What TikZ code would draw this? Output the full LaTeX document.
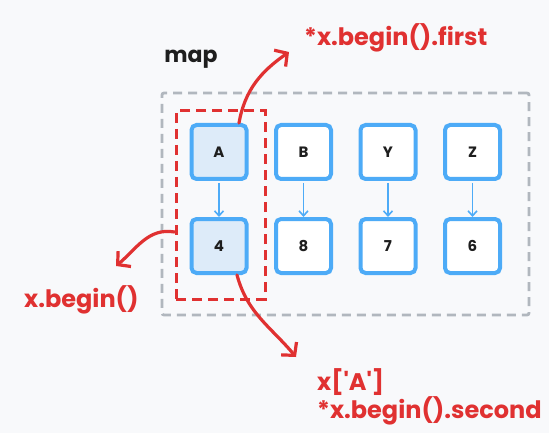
\documentclass[tikz,border=0pt]{standalone}
\usepackage{fontspec}
\setmainfont{Poppins}
\usetikzlibrary{arrows.meta}
\definecolor{bg}{HTML}{F8F9FB}
\definecolor{exred}{HTML}{E03131}
\definecolor{exblue}{HTML}{4DABF7}
\definecolor{exfill}{HTML}{DDEBF9}
\definecolor{exgray}{HTML}{B1B7BE}
\definecolor{ink}{HTML}{1E1E1E}
\tikzset{
  cell/.style={draw=exblue, line width=4pt, rounded corners=5pt, minimum width=55pt, minimum height=54pt, fill=white, text=ink, font=\fontsize{15}{17}\selectfont\bfseries, inner sep=0pt},
  hcell/.style={cell, fill=exfill},
  link/.style={draw=exblue, line width=1.6pt, shorten <=2pt, -{Straight Barb[length=5pt, width=9pt, line width=1.6pt]}},
  callout/.style={draw=exred, line width=3.2pt, line cap=round, -{Straight Barb[length=9pt, width=20pt, line width=3.2pt]}},
  lbl/.style={text=exred, font=\fontsize{24}{28}\selectfont\bfseries, inner sep=0pt, anchor=west},
}
\begin{document}
\begin{tikzpicture}[x=1pt, y=-1pt]
\fill[bg] (0,0) rectangle (549,433);
\useasboundingbox (0,0) rectangle (549,433);
% frames
\node[draw=exgray, line width=2.8pt, dash pattern=on 9pt off 6pt, rounded corners=2pt, minimum width=367pt, minimum height=222pt, inner sep=0pt] (mapbox) at (345.5,204) {};
\node[draw=exred, line width=3pt, dash pattern=on 10pt off 6pt, minimum width=89pt, minimum height=188pt, inner sep=0pt] (sel) at (220.5,205) {};
\node[font=\fontsize{22}{26}\selectfont\bfseries, text=ink, inner sep=0pt] (maplbl) at (191,59) {map};
% cells
\node[hcell] (kA) at (219,152) {A};
\node[cell] (kB) at (303.5,152) {B};
\node[cell] (kY) at (388,152) {Y};
\node[cell] (kZ) at (472.5,152) {Z};
\node[hcell] (v4) at (219,246) {4};
\node[cell] (v8) at (303.5,246) {8};
\node[cell] (v7) at (388,246) {7};
\node[cell] (v6) at (472.5,246) {6};
\draw[link] (kA) -- (v4);
\draw[link] (kB) -- (v8);
\draw[link] (kY) -- (v7);
\draw[link] (kZ) -- (v6);
% labels
\node[lbl] (first) at (304,38) {*x.begin().first};
\node[lbl] (begin) at (24,300) {x.begin()};
\node[lbl] (sq) at (317,382) {x[\textquotesingle A\textquotesingle]};
\node[lbl] (second) at (317,411) {*x.begin().second};
% callouts
\coordinate (t1) at (289,52);
\coordinate (t2) at (116,266);
\coordinate (t3) at (296,357);
\draw[callout] ([xshift=20pt]kA.north) to[out=80, in=215] (t1);
\draw[callout] (sel.west |- 0,232) to[out=170, in=40] (t2);
\draw[callout] ([xshift=18pt]v4.south) to[out=-75, in=130] (t3);
\end{tikzpicture}
\end{document}
